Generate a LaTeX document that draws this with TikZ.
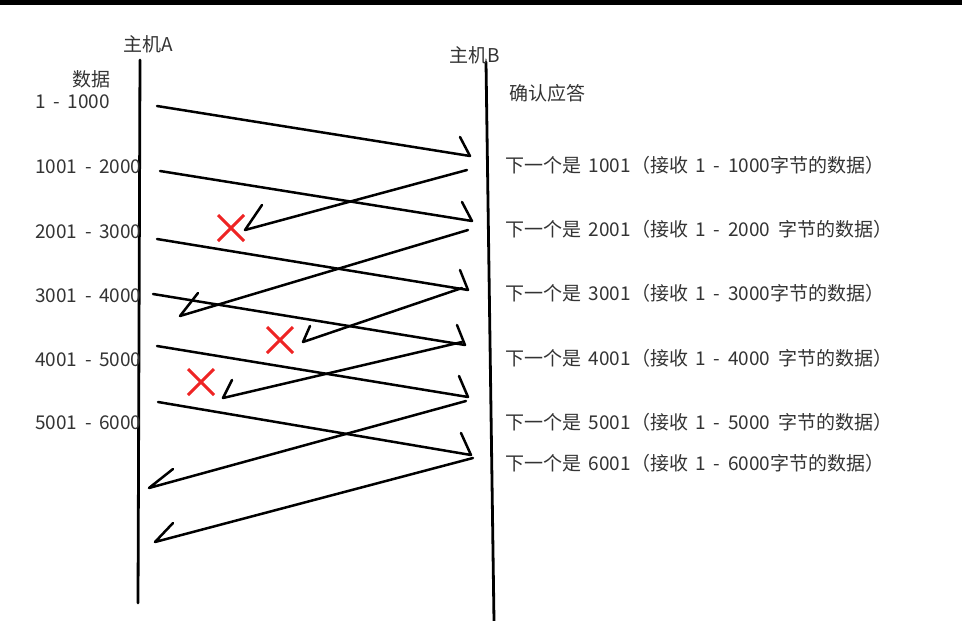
\documentclass[tikz,border=0pt]{standalone}
\usepackage{fontspec}
\setmainfont[WordSpace=1.8]{Noto Sans CJK SC}
\usetikzlibrary{shapes.misc}
\definecolor{txt}{HTML}{333333}
\definecolor{xred}{HTML}{EE2424}
\begin{document}
\begin{tikzpicture}[x=1pt,y=-1pt,
  lbl/.style={font=\fontsize{19}{22}\selectfont, text=txt, inner sep=0pt},
  host/.style={line width=2.8pt, line cap=round},
  msg/.style={line width=2.5pt, line cap=round, line join=round},
  lost/.style={draw=xred, line width=3pt, cross out, minimum size=23pt, inner sep=0pt}]
\useasboundingbox (0,0) rectangle (962,621);
\fill[black] (0,0) rectangle (962,4.5);

% hosts
\coordinate (at) at (140,60);
\coordinate (ab) at (138,603);
\coordinate (bt) at (486,62);
\coordinate (bb) at (494,621);
\draw[host] (at) -- (ab);
\draw[host] (bt) -- (bb);
\node[lbl] (ha) at (148,44) {主机A};
\node[lbl] (hb) at (475,55) {主机B};

% left labels
\node[lbl] (dh) at (91,79) {数据};
\node[lbl,anchor=west] (d1) at (35,102) {1 - 1000};
\node[lbl,anchor=west] (d2) at (35,167) {1001 - 2000};
\node[lbl,anchor=west] (d3) at (35,232) {2001 - 3000};
\node[lbl,anchor=west] (d4) at (35,296) {3001 - 4000};
\node[lbl,anchor=west] (d5) at (35,360) {4001 - 5000};
\node[lbl,anchor=west] (d6) at (35,423) {5001 - 6000};

% right labels
\node[lbl,anchor=west] (rh) at (509,93) {确认应答};
\node[lbl,anchor=west] (r1) at (505,165) {下一个是 1001（接收 1 - 1000字节的数据）};
\node[lbl,anchor=west] (r2) at (505,229) {下一个是 2001（接收 1 - 2000 字节的数据）};
\node[lbl,anchor=west] (r3) at (505,293) {下一个是 3001（接收 1 - 3000字节的数据）};
\node[lbl,anchor=west] (r4) at (505,358) {下一个是 4001（接收 1 - 4000 字节的数据）};
\node[lbl,anchor=west] (r5) at (505,422) {下一个是 5001（接收 1 - 5000 字节的数据）};
\node[lbl,anchor=west] (r6) at (505,463) {下一个是 6001（接收 1 - 6000字节的数据）};

% data segments A -> B
\coordinate (ds1) at (157,106); \coordinate (dt1) at (470,156); \coordinate (db1) at (460,137);
\coordinate (ds2) at (160,171); \coordinate (dt2) at (472,221); \coordinate (db2) at (462,202);
\coordinate (ds3) at (157,239); \coordinate (dt3) at (468,290); \coordinate (db3) at (460,270);
\coordinate (ds4) at (153,294); \coordinate (dt4) at (465,345); \coordinate (db4) at (457,325);
\coordinate (ds5) at (157,346); \coordinate (dt5) at (468,397); \coordinate (db5) at (459,376);
\coordinate (ds6) at (158,402); \coordinate (dt6) at (471,455); \coordinate (db6) at (461,433);
\foreach \i in {1,...,6} { \draw[msg] (ds\i) -- (dt\i) -- (db\i); }

% acknowledgements B -> A
\coordinate (as1) at (467,170); \coordinate (att1) at (245,230); \coordinate (ab1) at (262,205);
\coordinate (as2) at (468,230); \coordinate (att2) at (180,316); \coordinate (ab2) at (198,293);
\coordinate (as3) at (462,288); \coordinate (att3) at (303,342); \coordinate (ab3) at (310,326);
\coordinate (as4) at (462,342); \coordinate (att4) at (223,398); \coordinate (ab4) at (232,380);
\coordinate (as5) at (466,401); \coordinate (att5) at (149,488); \coordinate (ab5) at (173,469);
\coordinate (as6) at (473,458); \coordinate (att6) at (155,542); \coordinate (ab6) at (173,523);
\foreach \i in {1,...,6} { \draw[msg] (as\i) -- (att\i) -- (ab\i); }

% lost acknowledgements
\node[lost] (x1) at (231,228) {};
\node[lost] (x2) at (280,340) {};
\node[lost] (x3) at (201,382) {};
\end{tikzpicture}
\end{document}
